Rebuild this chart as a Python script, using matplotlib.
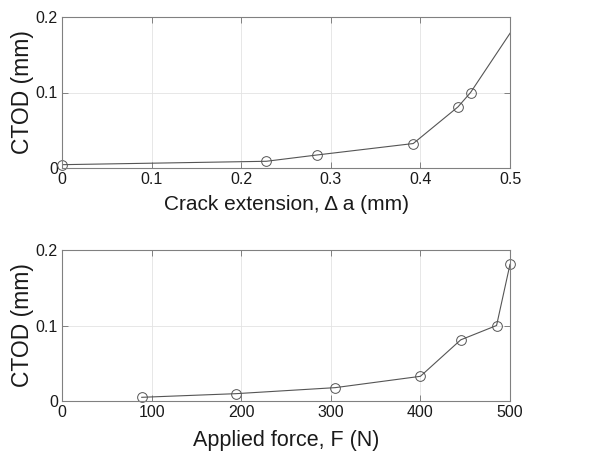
import matplotlib
matplotlib.use('Agg')
import matplotlib.pyplot as plt

# crack extension vs CTOD (last point lies beyond the axis limit)
da = [0.0, 0.228, 0.285, 0.392, 0.442, 0.456, 0.52]
ctod_a = [0.0044, 0.0089, 0.0173, 0.0324, 0.081, 0.100, 0.214]

# applied force vs CTOD
force = [89, 194, 305, 400, 445, 485, 500]
ctod_f = [0.0049, 0.0097, 0.0177, 0.0327, 0.081, 0.100, 0.181]

plt.rcParams['font.family'] = ['Liberation Sans', 'DejaVu Sans']

fig = plt.figure(figsize=(5.9, 4.54), dpi=100)
W, H = 590, 454
ax1 = fig.add_axes([62 / W, 1 - 168 / H, 448 / W, 151 / H])
ax2 = fig.add_axes([62 / W, 1 - 401 / H, 448 / W, 151 / H])

line_col = '#555555'


def style(ax):
    ax.grid(True, color='#e3e3e3', linewidth=0.6)
    ax.set_axisbelow(True)
    for s in ax.spines.values():
        s.set_color('#808080')
        s.set_linewidth(0.8)
    ax.tick_params(direction='in', top=True, right=True, length=4,
                   width=0.6, labelsize=11.5, pad=3, colors='#707070',
                   labelcolor='#1a1a1a')
    ax.set_ylim(0, 0.2)
    ax.set_yticks([0, 0.1, 0.2])
    ax.set_yticklabels(['0', '0.1', '0.2'])
    ax.set_ylabel('CTOD (mm)', fontsize=16.5, labelpad=1, color='#1a1a1a')


# line is clipped at the axes, markers inside the range drawn unclipped
ax1.plot(da, ctod_a, '-', color=line_col, linewidth=0.8)
vis = [(x, y) for x, y in zip(da, ctod_a) if x <= 0.5]
ax1.plot([p[0] for p in vis], [p[1] for p in vis], 'o', color=line_col,
         markersize=7, markerfacecolor='none', markeredgewidth=0.7,
         clip_on=False)
ax1.set_xlim(0, 0.5)
ax1.set_xticks([0, 0.1, 0.2, 0.3, 0.4, 0.5])
ax1.set_xticklabels(['0', '0.1', '0.2', '0.3', '0.4', '0.5'])
ax1.set_xlabel('Crack extension, \u0394 a (mm)', fontsize=15, labelpad=6,
               color='#1a1a1a')
style(ax1)

ax2.plot(force, ctod_f, '-o', color=line_col, linewidth=0.8, markersize=7,
         markerfacecolor='none', markeredgewidth=0.7, clip_on=False)
ax2.set_xlim(0, 500)
ax2.set_xticks([0, 100, 200, 300, 400, 500])
ax2.set_xlabel('Applied force, F (N)', fontsize=15.5, labelpad=7,
               color='#1a1a1a')
style(ax2)

fig.savefig('out.png', dpi=100)
